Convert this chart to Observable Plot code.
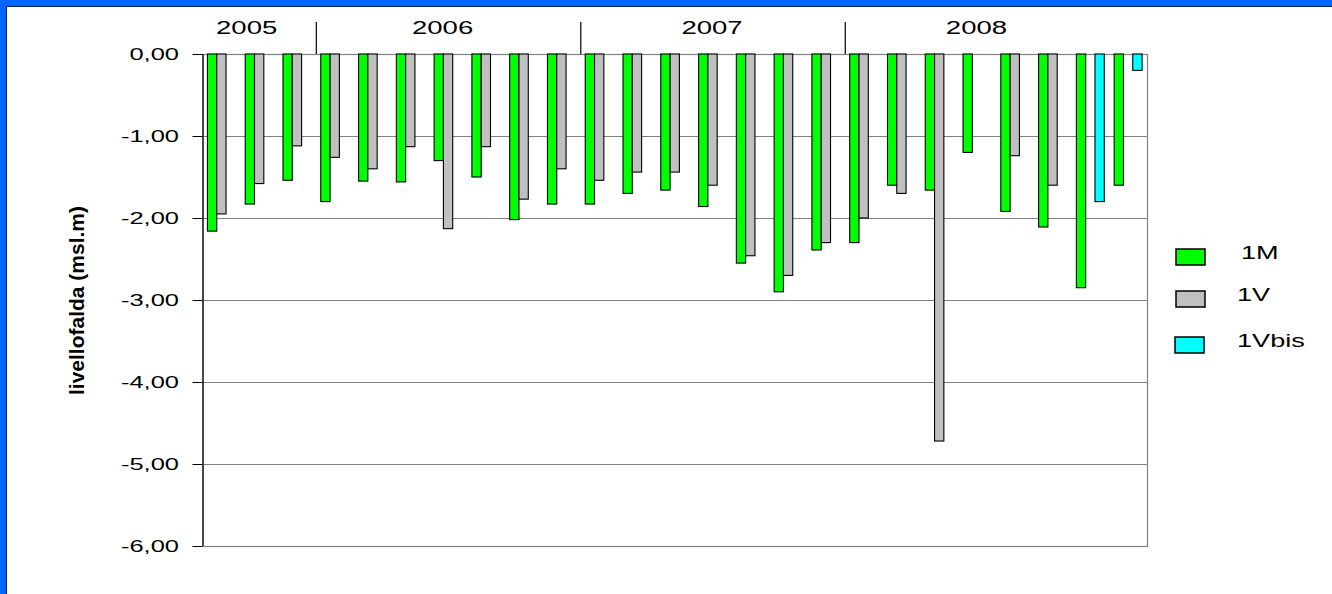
<!DOCTYPE html>
<html>
<head>
<meta charset="utf-8">
<script src="https://cdn.jsdelivr.net/npm/d3@7"></script>
<script src="https://cdn.jsdelivr.net/npm/@observablehq/plot@0.6"></script>
<style>
  html, body { margin: 0; padding: 0; background: #fff; }
  #wrap { position: relative; width: 1332px; height: 594px; overflow: hidden; background: #fff;
          font-family: "Liberation Sans", Arial, sans-serif; }
  #wrap > svg { position: absolute; left: 0; top: 0; }
  #border { position: absolute; left: 0; top: 0; right: 0; bottom: 0; box-sizing: border-box;
            border-left: 6px solid #0066ff; border-top: 6px solid #0066ff; pointer-events: none; }
  #border::after { content: ""; position: absolute; left: 0; top: 0; right: 0; bottom: 0;
            border-left: 1.5px solid #00215f; border-top: 1.5px solid #00215f; }
</style>
</head>
<body>
<div id="wrap"><div id="border"></div></div>
<script>
// ---- data ----
const groups = [
  "2005-1","2005-2","2005-3",
  "2006-1","2006-2","2006-3","2006-4","2006-5","2006-6","2006-7",
  "2007-1","2007-2","2007-3","2007-4","2007-5","2007-6","2007-7",
  "2008-1","2008-2","2008-3","2008-4","2008-5","2008-6","2008-7","2008-8"
];
const series = ["1M", "1V", "1Vbis"];
const values1M = [-2.16,-1.83,-1.54, -1.80,-1.55,-1.56,-1.30,-1.50,-2.02,-1.83,
                  -1.83,-1.70,-1.66,-1.86,-2.55,-2.90,-2.39, -2.30,-1.60,-1.66,-1.20,-1.92,-2.11,-2.85,-1.60];
const values1V = [-1.95,-1.58,-1.12, -1.26,-1.40,-1.13,-2.13,-1.13,-1.77,-1.40,
                  -1.54,-1.44,-1.44,-1.60,-2.46,-2.70,-2.30, -2.00,-1.70,-4.72,null,-1.24,-1.60,null,null];
const values1Vbis = [null,null,null, null,null,null,null,null,null,null,
                  null,null,null,null,null,null,null, null,null,null,null,null,null,-1.80,-0.20];
const years = ["2005", "2006", "2007", "2008"];
const yearAnchorGroup = [1, 6, 13, 20];     // group under each year label
const separatorBeforeGroup = [3, 10, 17];   // year separators
const yTicks = [0, -1, -2, -3, -4, -5, -6];
const yTitle = "livellofalda (msl.m)";

// ---- styles ----
const colors = ["#00ff00", "#c0c0c0", "#00ffff"];
const W = 1332, H = 594, mL = 202.5, mR = 185, mT = 54, mB = 48;
const step = (W - mL - mR) / groups.length;
const slot = 9.3;
const inset = (step - slot) / 2;
const sepTop = 0.39;               // separator height above 0 (y units)
const yearDx = [-13, -6, -1, -1];
const font = '"Liberation Sans", Arial, sans-serif';

const fmt = d => d.toFixed(2).replace(".", ",");
const cols = [values1M, values1V, values1Vbis];

const barMarks = cols.map((vals, k) => {
  const rows = groups.map((g, i) => ({g, v: vals[i]})).filter(d => d.v != null);
  return Plot.barY(rows, {
    x: "g", y: "v", fill: colors[k], stroke: "#000", strokeWidth: 1.1,
    insetLeft: inset, insetRight: inset, dx: (k - 1) * slot
  });
});

const yearMarks = years.map((y, k) =>
  Plot.text([{year: y, g: groups[yearAnchorGroup[k]]}], {
    x: "g", y: () => 0, text: "year", dx: yearDx[k], dy: -21, lineAnchor: "bottom",
    fontSize: 19, fill: "#000"
  })
);

const chart = Plot.plot({
  width: W, height: H,
  marginLeft: mL, marginRight: mR, marginTop: mT, marginBottom: mB,
  style: {fontFamily: font, fontSize: "17px", color: "#000", background: "transparent", overflow: "visible"},
  x: {type: "band", domain: groups, padding: 0, round: false, axis: null, label: null},
  y: {domain: [-6, 0], axis: null, label: null},
  marks: [
    Plot.ruleY(yTicks, {stroke: "#808080", strokeWidth: 1}),
    Plot.frame({stroke: "#808080", strokeWidth: 1.2}),
    ...barMarks,
    Plot.ruleX([groups[0]], {dx: -step / 2, stroke: "#000", strokeWidth: 1.2}),
    Plot.ruleX(separatorBeforeGroup.map(i => groups[i]), {
      dx: -step / 2, y1: () => 0, y2: () => sepTop, stroke: "#000", strokeWidth: 1.2
    }),
    Plot.axisY(yTicks, {tickSize: 10, tickPadding: 14, tickFormat: fmt, fontSize: 17, stroke: "#000", label: null}),
    ...yearMarks,
    Plot.text([yTitle], {
      text: d => d, frameAnchor: "left", dx: -119, rotate: -90,
      textAnchor: "middle", lineAnchor: "bottom", fontWeight: "bold", fontSize: 21, fill: "#000"
    })
  ]
});

// horizontal stretch of labels (as in the reference)
function stretchEl(t, s) {
  const tr = t.getAttribute("transform");
  if (tr) {
    t.setAttribute("transform", tr + ` scale(${s},1)`);
  } else {
    const x = +t.getAttribute("x") || 0, y = +t.getAttribute("y") || 0;
    t.setAttribute("x", 0); t.setAttribute("y", 0);
    t.setAttribute("transform", `translate(${x},${y}) scale(${s},1)`);
  }
}
const tickTexts = new Set(yTicks.map(fmt));
chart.querySelectorAll("text").forEach(t => {
  const s = t.textContent.trim();
  if (tickTexts.has(s)) stretchEl(t, 1.5);
  else if (years.includes(s)) stretchEl(t, 1.45);
});

const wrap = document.getElementById("wrap");
wrap.insertBefore(chart, document.getElementById("border"));

// legend
const legX = [1176, 1176, 1175];
const legTop = [249, 291, 337];
const legTextX = [1241, 1237, 1237];
const leg = d3.create("svg").attr("width", W).attr("height", H)
  .style("position", "absolute").style("left", 0).style("top", 0).style("pointer-events", "none");
series.forEach((s, k) => {
  leg.append("rect").attr("x", legX[k]).attr("y", legTop[k]).attr("width", 29).attr("height", 16)
    .attr("fill", colors[k]).attr("stroke", "#000").attr("stroke-width", 1.5);
  leg.append("text").attr("transform", `translate(${legTextX[k]},${legTop[k] + 10}) scale(1.55,1)`)
    .attr("font-family", font).attr("font-size", 17.5).attr("fill", "#000").text(s);
});
wrap.insertBefore(leg.node(), document.getElementById("border"));
</script>
</body>
</html>
